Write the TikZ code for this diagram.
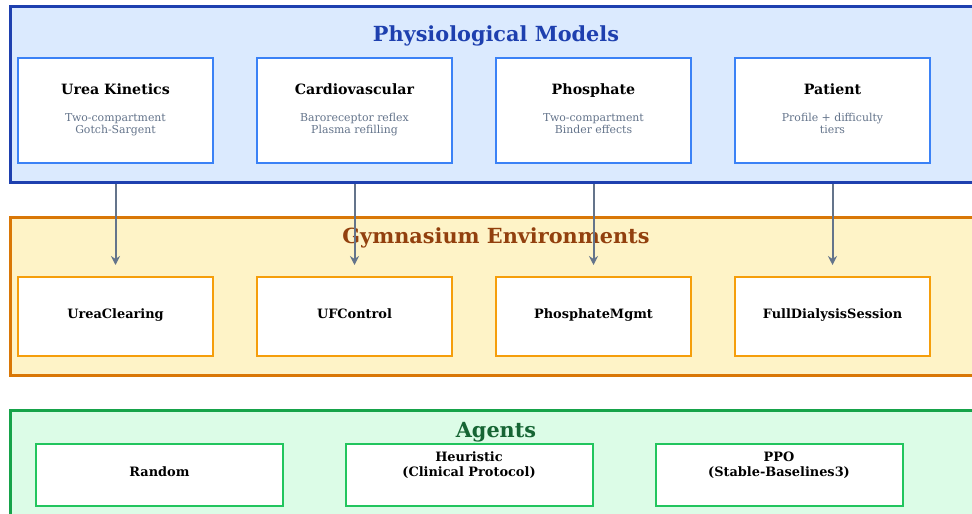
\documentclass[tikz,border=0pt]{standalone}
\usepackage{fontspec}
\setmainfont{DejaVu Serif}
\usetikzlibrary{arrows.meta}
\definecolor{physB}{HTML}{1E40AF}
\definecolor{physF}{HTML}{DBEAFE}
\definecolor{physI}{HTML}{3B82F6}
\definecolor{envB}{HTML}{D97706}
\definecolor{envF}{HTML}{FEF3C7}
\definecolor{envI}{HTML}{F59E0B}
\definecolor{envT}{HTML}{92400E}
\definecolor{agB}{HTML}{16A34A}
\definecolor{agF}{HTML}{DCFCE7}
\definecolor{agI}{HTML}{22C55E}
\definecolor{agT}{HTML}{166534}
\definecolor{subg}{HTML}{64748B}
\tikzset{
  layer/.style={draw=#1, line width=3pt, anchor=north west, inner sep=0pt},
  inbox/.style={draw=#1, fill=white, line width=2pt, inner sep=0pt},
  ltitle/.style={font=\bfseries\fontsize{20.8}{24}\selectfont, text=#1},
  mtitle/.style={font=\bfseries\fontsize{14.2}{17}\selectfont, text height=10.4pt, text depth=3pt},
  msub/.style={font=\fontsize{10.9}{12.2}\selectfont, text=subg, align=center, text depth=2.5pt},
  etxt/.style={font=\bfseries\fontsize{12.9}{14.5}\selectfont, align=center, text depth=3pt},
  arr/.style={draw=subg, line width=2pt, -{Stealth[length=9pt,width=9pt]}}
}
\begin{document}
\begin{tikzpicture}[x=1pt,y=-1pt]
\useasboundingbox (0,0) rectangle (972,514);
\clip (0,0) rectangle (972,514);
% layers
\node[layer=physB, fill=physF, minimum width=1000pt, minimum height=176pt] (phys) at (9,5) {};
\node[layer=envB, fill=envF, minimum width=1000pt, minimum height=158pt] (env) at (9,216) {};
\node[layer=agB, fill=agF, minimum width=1000pt, minimum height=140pt] (ag) at (9,409) {};
\node[ltitle=physB] (physT) at (496,36) {Physiological Models};
\node[ltitle=envT] (envT) at (496,238) {Gymnasium Environments};
\node[ltitle=agT] (agT) at (496,432) {Agents};
% model boxes
\foreach \n/\x/\t/\a/\b in {uk/115.5/Urea Kinetics/Two-compartment/Gotch-Sargent,
  cv/354.5/Cardiovascular/Baroreceptor reflex/Plasma refilling,
  ph/593.5/Phosphate/Two-compartment/Binder effects,
  pt/832.5/Patient/Profile + difficulty/tiers}{
  \node[inbox=physI, minimum width=195pt, minimum height=105pt] (\n) at (\x,110.5) {};
  \node[mtitle] (\n-t) at (\x,90.5) {\t};
  \node[msub] (\n-s) at (\x,125) {\a\\\b};
}
% env boxes
\foreach \n/\x/\t in {uc/115.5/UreaClearing, uf/354.5/UFControl, pm/593.5/PhosphateMgmt, fd/832.5/FullDialysisSession}{
  \node[inbox=envI, minimum width=195pt, minimum height=79pt] (\n) at (\x,316.5) {};
  \node[etxt] (\n-t) at (\x,315) {\t};
}
% agent boxes
\node[inbox=agI, minimum width=247pt, minimum height=62pt] (rnd) at (159.5,475) {};
\node[etxt] (rnd-t) at (159.5,473) {Random};
\node[inbox=agI, minimum width=247pt, minimum height=62pt] (heu) at (469,475) {};
\node[etxt] (heu-t) at (469,465.5) {Heuristic\\(Clinical Protocol)};
\node[inbox=agI, minimum width=247pt, minimum height=62pt] (ppo) at (779,475) {};
\node[etxt] (ppo-t) at (779,465.5) {PPO\\(Stable-Baselines3)};
% arrows
\foreach \a/\b in {uk/uc, cv/uf, ph/pm, pt/fd}{
  \draw[arr, shorten >=11pt] (\a |- phys.south) -- (\b.north);
}
\end{tikzpicture}
\end{document}
